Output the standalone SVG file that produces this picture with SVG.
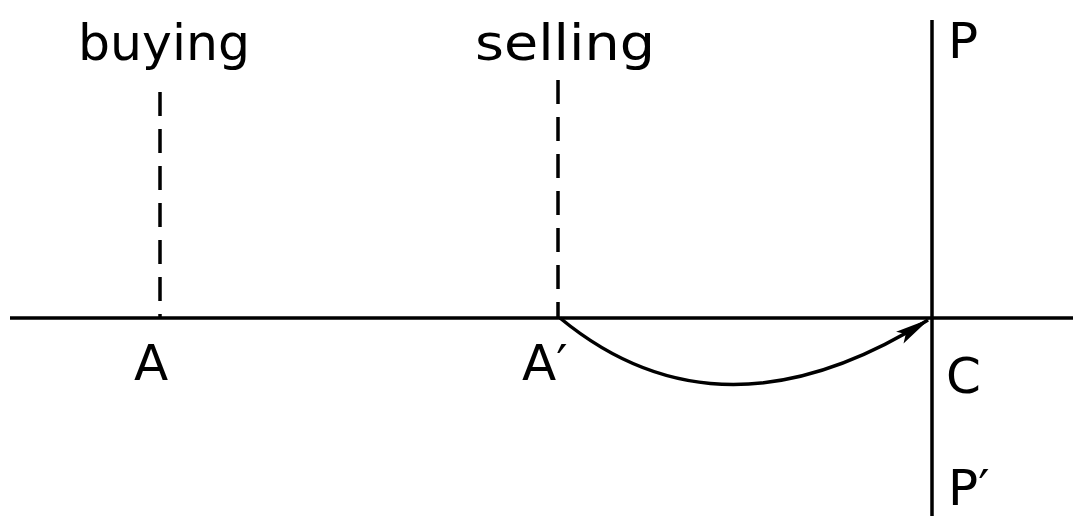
<svg xmlns="http://www.w3.org/2000/svg" width="1073" height="516" viewBox="0 0 1073 516">
<defs>
<style>
.lbl{font-family:"DejaVu Sans","Liberation Sans",sans-serif;font-size:50px;fill:#000}
.ln{stroke:#000;fill:none;stroke-width:3.5}
.dash{stroke-dasharray:24 13}
</style>
<marker id="ah" viewBox="0 0 20 10" refX="19" refY="5" markerWidth="10" markerHeight="5" orient="auto" markerUnits="strokeWidth">
<path d="M0,1 L20,5 L0,9 L4,5 Z" fill="#000"/>
</marker>
</defs>
<rect width="1073" height="516" fill="#fff"/>
<g id="connectors">
<line class="ln" x1="10" y1="318" x2="1073" y2="318"/>
<line class="ln dash" x1="160" y1="92" x2="160" y2="318"/>
<line class="ln dash" x1="558" y1="80" x2="558" y2="318"/>
<line class="ln" x1="932" y1="20" x2="932" y2="516" stroke-width="4"/>
<path class="ln" d="M560,318 Q720,450 928,320" stroke-width="4" marker-end="url(#ah)"/>
</g>
<g id="buying"><text class="lbl" x="78" y="60" textLength="172" lengthAdjust="spacingAndGlyphs">buying</text></g>
<g id="selling"><text class="lbl" x="475" y="60" textLength="180" lengthAdjust="spacingAndGlyphs">selling</text></g>
<g id="P"><text class="lbl" x="948" y="58">P</text></g>
<g id="A"><text class="lbl" x="134" y="380">A</text></g>
<g id="Aprime"><text class="lbl" x="522" y="380">A′</text></g>
<g id="C"><text class="lbl" x="946" y="393">C</text></g>
<g id="Pprime"><text class="lbl" x="948" y="505" font-size="46">P′</text></g>
</svg>
